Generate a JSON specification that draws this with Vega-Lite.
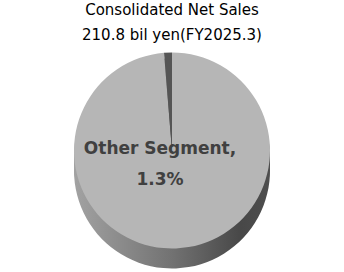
{
  "$schema": "https://vega.github.io/schema/vega-lite/v6.json",
  "width": 344,
  "height": 272,
  "autosize": {"type": "fit", "contains": "padding"},
  "padding": {"top": 3, "left": 0, "right": 0, "bottom": 0},
  "background": "white",
  "title": {
    "text": ["Consolidated Net Sales", "210.8 bil yen(FY2025.3)"],
    "font": "DejaVu Sans",
    "fontSize": 15,
    "fontWeight": "normal",
    "color": "#000000",
    "lineHeight": 25,
    "anchor": "middle",
    "offset": 6
  },
  "data": {
    "values": [
      {"segment": "Main Segment", "share": 98.7},
      {"segment": "Other Segment", "share": 1.3}
    ]
  },
  "layer": [
    {
      "mark": {"type": "arc", "radius": 98, "yOffset": 10,
        "fill": {"gradient": "linear", "x1": 0, "x2": 1, "y1": 0, "y2": 0,
          "stops": [{"offset": 0, "color": "#a2a2a2"}, {"offset": 0.5, "color": "#727272"}, {"offset": 0.85, "color": "#484848"}, {"offset": 1, "color": "#4e4e4e"}]}},
      "encoding": {"theta": {"field": "share", "type": "quantitative"}}
    },
    {
      "mark": {"type": "arc", "radius": 98, "yOffset": 3,
        "fill": {"gradient": "linear", "x1": 0, "x2": 1, "y1": 0, "y2": 0,
          "stops": [{"offset": 0, "color": "#a2a2a2"}, {"offset": 0.5, "color": "#727272"}, {"offset": 0.85, "color": "#484848"}, {"offset": 1, "color": "#4e4e4e"}]}},
      "encoding": {"theta": {"field": "share", "type": "quantitative"}}
    },
    {
      "mark": {"type": "arc", "radius": 98, "yOffset": -4,
        "fill": {"gradient": "linear", "x1": 0, "x2": 1, "y1": 0, "y2": 0,
          "stops": [{"offset": 0, "color": "#a2a2a2"}, {"offset": 0.5, "color": "#727272"}, {"offset": 0.85, "color": "#484848"}, {"offset": 1, "color": "#4e4e4e"}]}},
      "encoding": {"theta": {"field": "share", "type": "quantitative"}}
    },
    {
      "mark": {"type": "arc", "radius": 98, "yOffset": -10},
      "encoding": {
        "theta": {"field": "share", "type": "quantitative"},
        "color": {"field": "segment", "type": "nominal", "legend": null,
          "scale": {"domain": ["Main Segment", "Other Segment"], "range": ["#b6b6b6", "#555555"]}}
      }
    },
    {
      "transform": [
        {"filter": "datum.segment === 'Other Segment'"},
        {"calculate": "[datum.segment + ',', format(datum.share, '.1f') + '%']", "as": "label"}
      ],
      "mark": {"type": "text", "font": "DejaVu Sans", "fontSize": 17, "fontWeight": "bold", "color": "#404040", "lineHeight": 31, "align": "center", "baseline": "middle", "dx": -12, "dy": -12},
      "encoding": {"text": {"field": "label", "type": "nominal"}}
    }
  ],
  "config": {"view": {"stroke": null}}
}
